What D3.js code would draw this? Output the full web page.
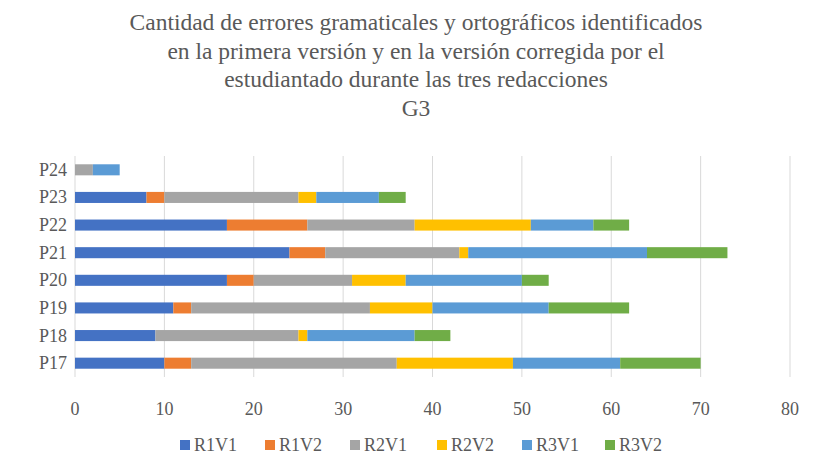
<!DOCTYPE html>
<html><head><meta charset="utf-8">
<script src="https://cdn.jsdelivr.net/npm/d3@7"></script>
<style>body{margin:0;background:#fff} svg text{font-family:"Liberation Serif","Times New Roman","DejaVu Serif",serif;}</style></head>
<body><svg id="c" width="827" height="461"></svg>
<script>
const categories = ["P17","P18","P19","P20","P21","P22","P23","P24"];
const seriesNames = ["R1V1","R1V2","R2V1","R2V2","R3V1","R3V2"];
const colors = ["#4472C4","#ED7D31","#A5A5A5","#FFC000","#5B9BD5","#70AD47"];
const R1V1 = [10,9,11,17,24,17,8,0];
const R1V2 = [3,0,2,3,4,9,2,0];
const R2V1 = [23,16,20,11,15,12,15,2];
const R2V2 = [13,1,7,6,1,13,2,0];
const R3V1 = [12,12,13,13,20,7,7,3];
const R3V2 = [9,4,9,3,9,4,3,0];
const ticks = [0,10,20,30,40,50,60,70,80];
const titleLines = ["Cantidad de errores gramaticales y ortográficos identificados","en la primera versión y en la versión corregida por el","estudiantado durante las tres redacciones","G3"];

const vals = [R1V1,R1V2,R2V1,R2V2,R3V1,R3V2];
const svg = d3.select("#c");
const x = d3.scaleLinear().domain([0,80]).range([75,790]);
const y = d3.scaleBand().domain(categories.slice().reverse()).range([156,377]).paddingInner(0.6).paddingOuter(0.3);

svg.selectAll(".t").data(titleLines).enter().append("text")
 .attr("x",416).attr("y",(d,i)=>30+i*28.5).attr("text-anchor","middle")
 .attr("font-size",23.5).attr("fill","#595959").text(d=>d);

svg.selectAll(".g").data(ticks).enter().append("line")
 .attr("x1",d=>x(d)).attr("x2",d=>x(d)).attr("y1",156).attr("y2",377)
 .attr("stroke","#D9D9D9").attr("stroke-width",1);

const stackData = categories.map((c,i)=>{const o={cat:c};seriesNames.forEach((s,j)=>o[s]=vals[j][i]);return o;});
const stack = d3.stack().keys(seriesNames)(stackData);
stack.forEach((layer,j)=>{
 svg.append("g").selectAll("rect").data(layer).enter().append("rect")
  .attr("x",d=>x(d[0])).attr("width",d=>x(d[1])-x(d[0]))
  .attr("y",d=>y(d.data.cat)).attr("height",y.bandwidth())
  .attr("fill",colors[j]);
});

svg.selectAll(".yl").data(categories).enter().append("text")
 .attr("x",67).attr("y",d=>y(d)+y.bandwidth()/2+6).attr("text-anchor","end")
 .attr("font-size",18).attr("fill","#595959").text(d=>d);
svg.selectAll(".xl").data(ticks).enter().append("text")
 .attr("x",d=>x(d)).attr("y",415).attr("text-anchor","middle")
 .attr("font-size",18).attr("fill","#595959").text(d=>d);

const lx = [180,265,350,437,522,605];
seriesNames.forEach((s,j)=>{
 svg.append("rect").attr("x",lx[j]).attr("y",440).attr("width",10).attr("height",10).attr("fill",colors[j]);
 svg.append("text").attr("x",lx[j]+14).attr("y",451).attr("font-size",18).attr("fill","#595959").text(s);
});
</script></body></html>
